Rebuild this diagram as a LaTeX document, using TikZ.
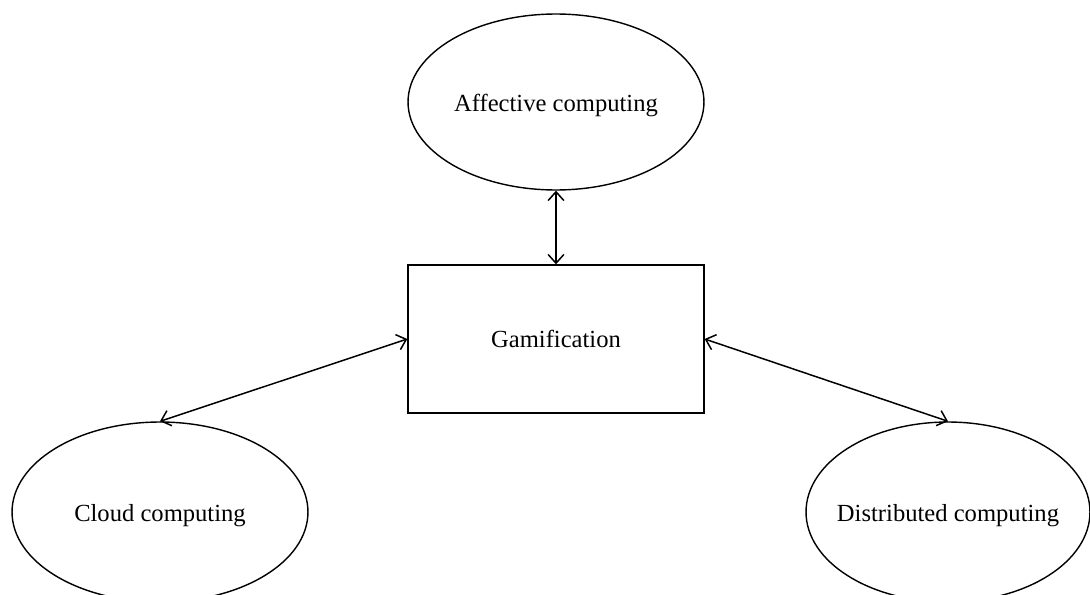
\documentclass[tikz,border=0pt]{standalone}
\usepackage{fontspec}
\setmainfont{Liberation Serif}
\usetikzlibrary{shapes.geometric,arrows.meta}
\begin{document}
\begin{tikzpicture}[x=0.02cm,y=-0.02cm,
  every node/.style={font=\fontsize{14}{16}\selectfont},
  every label/.style={font=\fontsize{14}{16}\selectfont, inner sep=0pt},
  topic/.style={draw, ellipse, line width=0.8pt, inner sep=0pt, minimum width=5.92cm},
  mainbox/.style={draw, rectangle, line width=0.8pt, minimum width=5.92cm, minimum height=2.96cm, inner sep=0pt},
  link/.style={line width=0.85pt, {Straight Barb[length=5pt,width=9pt]}-{Straight Barb[length=5pt,width=9pt]}}]
\useasboundingbox (0,0) rectangle (1090,595);
\node[topic, minimum height=3.52cm, label={[yshift=-2pt]center:Affective computing}] (aff) at (556,102) {};
\node[mainbox] (gam) at (556,339) {Gamification};
\node[topic, minimum height=3.6cm, label={[yshift=-2pt]center:Cloud computing}] (cloud) at (160,512) {};
\node[topic, minimum height=3.6cm, minimum width=5.68cm, label={[yshift=-2pt]center:Distributed computing}] (dist) at (948,512) {};
\draw[link] (aff.south) -- (gam.north);
\draw[link] (gam.west) -- (cloud.north);
\draw[link] (gam.east) -- (dist.north);
\end{tikzpicture}
\end{document}
